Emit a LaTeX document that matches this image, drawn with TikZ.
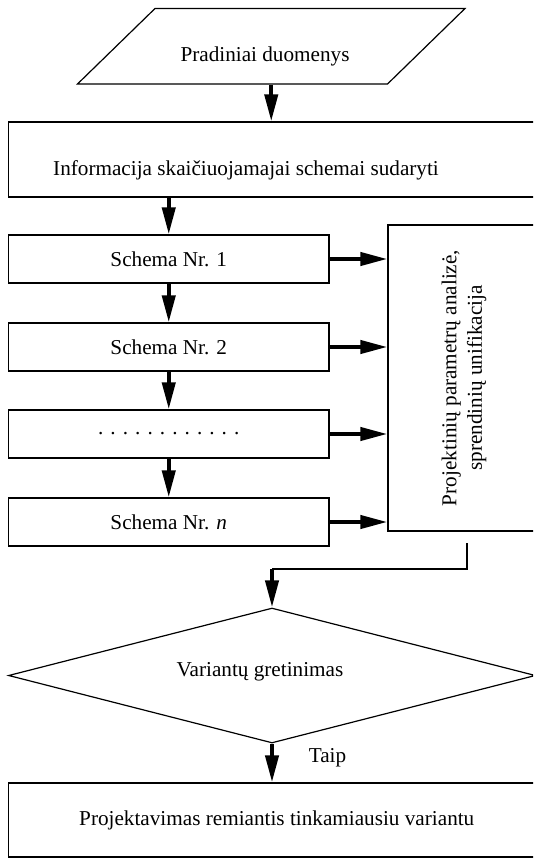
\documentclass[tikz,border=0pt]{standalone}
\usepackage{fontspec}
\setmainfont{Liberation Serif}
\usetikzlibrary{shapes.geometric,arrows.meta}

\begin{document}
\begin{tikzpicture}[
    x=1pt, y=-1pt,
    every node/.style={font=\fontsize{21.2}{25.5}\selectfont},
    box/.style={draw, line width=1.2pt, inner sep=0pt},
    schema/.style={box, minimum width=320.5, minimum height=48},
    arr/.style={line width=4pt, -{Triangle[length=27pt, width=13pt]}},
    link/.style={line width=1.2pt}
]
\useasboundingbox (0,0) rectangle (533,859);
\clip (0,0) rectangle (533,859);

% blokai
\node[box, trapezium, trapezium left angle=44.25, trapezium right angle=135.75,
      trapezium stretches body=true, inner xsep=2pt, inner ysep=25pt, minimum width=387.5] (pd) at (271.25,46.25) {\strut};
\node[anchor=base] (pdtxt) at (265,61.7) {Pradiniai duomenys};

\node[box, minimum width=551.5, minimum height=75] (info) at (284.25,159.5) {};
\node[anchor=base] (infotxt) at (246,175) {Informacija skaičiuojamajai schemai sudaryti};

\node[schema] (s1) at (168.75,259) {Schema Nr. 1};
\node[schema] (s2) at (168.75,347) {Schema Nr. 2};
\node[schema] (s3) at (168.75,434) {. . . . . . . . . . . .};
\node[schema] (sn) at (168.75,522) {Schema Nr. \textit{n}};

\node[box, rotate=90, align=center, minimum width=306, minimum height=152] (prj) at (464,378)
    {Projektinių parametrų analizė,\\ sprendinių unifikacija};

\node[box, diamond, minimum width=527, minimum height=135] (dm) at (272,675.5) {};
\node[anchor=base] (dmtxt) at (260,676) {Variantų gretinimas};

\node[box, minimum width=536.5, minimum height=74] (fin) at (276.75,820)
    {Projektavimas remiantis tinkamiausiu variantu};

% rodyklės
\draw[arr] (pd.south) -- (pd.south |- info.north);
\draw[arr] (info.south -| s1.north) -- (s1.north);
\draw[arr] (s1.south) -- (s2.north);
\draw[arr] (s2.south) -- (s3.north);
\draw[arr] (s3.south) -- (sn.north);

\foreach \s in {s1,s2,s3,sn}
    \draw[arr] (\s.east) -- (\s.east -| prj.north);

% jungtis i palyginima
\coordinate (a1) at (467,543);
\coordinate (a2) at (272,569);
\draw[link] (a1) |- (a2);
\draw[arr] (a2) -- (dm.north);

\draw[arr] (dm.south) -- (dm.south |- fin.north);
\node[anchor=base] (taip) at (327.5,762.7) {Taip};

\end{tikzpicture}
\end{document}
